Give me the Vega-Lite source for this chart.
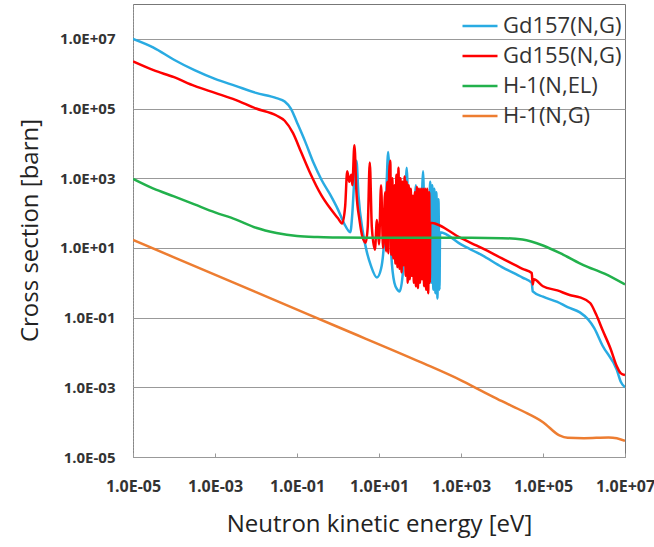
{
  "$schema": "https://vega.github.io/schema/vega-lite/v6.json",
  "width": 492,
  "height": 453,
  "autosize": {"type": "none"},
  "padding": {"left": 133, "top": 4, "right": 29, "bottom": 90},
  "background": "white",
  "config": {
    "view": {"stroke": "#777", "strokeWidth": 1},
    "font": "Open Sans"
  },
  "data": {
    "values": [
      {"s": "Gd157(N,G)", "e": 1e-5, "v": 1e7},
      {"s": "Gd157(N,G)", "e": 3.162e-5, "v": 5.623e6},
      {"s": "Gd157(N,G)", "e": 1e-4, "v": 2.512e6},
      {"s": "Gd157(N,G)", "e": 3.162e-4, "v": 1.259e6},
      {"s": "Gd157(N,G)", "e": 1e-3, "v": 7.079e5},
      {"s": "Gd157(N,G)", "e": 3.162e-3, "v": 4.467e5},
      {"s": "Gd157(N,G)", "e": 1e-2, "v": 2.818e5},
      {"s": "Gd157(N,G)", "e": 3.162e-2, "v": 1.995e5},
      {"s": "Gd157(N,G)", "e": 5.012e-2, "v": 1.585e5},
      {"s": "Gd157(N,G)", "e": 7.079e-2, "v": 1e5},
      {"s": "Gd157(N,G)", "e": 0.1, "v": 3.981e4},
      {"s": "Gd157(N,G)", "e": 0.1585, "v": 1.122e4},
      {"s": "Gd157(N,G)", "e": 0.2512, "v": 2818},
      {"s": "Gd157(N,G)", "e": 0.3981, "v": 891.3},
      {"s": "Gd157(N,G)", "e": 0.631, "v": 354.8},
      {"s": "Gd157(N,G)", "e": 1, "v": 125.9},
      {"s": "Gd157(N,G)", "e": 1.413, "v": 50.12},
      {"s": "Gd157(N,G)", "e": 1.995, "v": 28.18},
      {"s": "Gd157(N,G)", "e": 2.239, "v": 100},
      {"s": "Gd157(N,G)", "e": 2.512, "v": 1000},
      {"s": "Gd157(N,G)", "e": 2.818, "v": 3162},
      {"s": "Gd157(N,G)", "e": 3.162, "v": 316.2},
      {"s": "Gd157(N,G)", "e": 3.981, "v": 31.62},
      {"s": "Gd157(N,G)", "e": 5.012, "v": 7.943},
      {"s": "Gd157(N,G)", "e": 6.31, "v": 3.162},
      {"s": "Gd157(N,G)", "e": 8.913, "v": 1.413},
      {"s": "Gd157(N,G)", "e": 11.22, "v": 2.512},
      {"s": "Gd157(N,G)", "e": 13.34, "v": 15.85},
      {"s": "Gd157(N,G)", "e": 14.96, "v": 316.2},
      {"s": "Gd157(N,G)", "e": 16.79, "v": 5623},
      {"s": "Gd157(N,G)", "e": 18.84, "v": 100},
      {"s": "Gd157(N,G)", "e": 19.95, "v": 6.31},
      {"s": "Gd157(N,G)", "e": 23.71, "v": 1},
      {"s": "Gd157(N,G)", "e": 28.18, "v": 0.631},
      {"s": "Gd157(N,G)", "e": 31.62, "v": 0.5623},
      {"s": "Gd157(N,G)", "e": 37.58, "v": 1.585},
      {"s": "Gd157(N,G)", "e": 42.17, "v": 31.62},
      {"s": "Gd157(N,G)", "e": 47.32, "v": 1995},
      {"s": "Gd157(N,G)", "e": 53.09, "v": 31.62},
      {"s": "Gd157(N,G)", "e": 59.57, "v": 3.162},
      {"s": "Gd157(N,G)", "e": 63.1, "v": 1.585},
      {"s": "Gd157(N,G)", "e": 70.79, "v": 31.62},
      {"s": "Gd157(N,G)", "e": 79.43, "v": 631},
      {"s": "Gd157(N,G)", "e": 89.13, "v": 10},
      {"s": "Gd157(N,G)", "e": 100, "v": 2.512},
      {"s": "Gd157(N,G)", "e": 118.9, "v": 1585},
      {"s": "Gd157(N,G)", "e": 133.4, "v": 3.981},
      {"s": "Gd157(N,G)", "e": 158.5, "v": 1.413},
      {"s": "Gd157(N,G)", "e": 177.8, "v": 794.3},
      {"s": "Gd157(N,G)", "e": 188.4, "v": 1},
      {"s": "Gd157(N,G)", "e": 199.5, "v": 631},
      {"s": "Gd157(N,G)", "e": 211.3, "v": 0.631},
      {"s": "Gd157(N,G)", "e": 223.9, "v": 501.2},
      {"s": "Gd157(N,G)", "e": 237.1, "v": 0.5012},
      {"s": "Gd157(N,G)", "e": 251.2, "v": 398.1},
      {"s": "Gd157(N,G)", "e": 266.1, "v": 0.3548},
      {"s": "Gd157(N,G)", "e": 281.8, "v": 251.2},
      {"s": "Gd157(N,G)", "e": 298.5, "v": 0.631},
      {"s": "Gd157(N,G)", "e": 309, "v": 28.18},
      {"s": "Gd157(N,G)", "e": 1000, "v": 12.59},
      {"s": "Gd157(N,G)", "e": 3162, "v": 6.31},
      {"s": "Gd157(N,G)", "e": 1e4, "v": 2.818},
      {"s": "Gd157(N,G)", "e": 3.162e4, "v": 1.413},
      {"s": "Gd157(N,G)", "e": 5.309e4, "v": 1},
      {"s": "Gd157(N,G)", "e": 5.623e4, "v": 0.5623},
      {"s": "Gd157(N,G)", "e": 1e5, "v": 0.3981},
      {"s": "Gd157(N,G)", "e": 2.239e5, "v": 0.2818},
      {"s": "Gd157(N,G)", "e": 3.981e5, "v": 0.1995},
      {"s": "Gd157(N,G)", "e": 7.943e5, "v": 0.1413},
      {"s": "Gd157(N,G)", "e": 1.259e6, "v": 0.08913},
      {"s": "Gd157(N,G)", "e": 1.778e6, "v": 0.05012},
      {"s": "Gd157(N,G)", "e": 2.818e6, "v": 0.01585},
      {"s": "Gd157(N,G)", "e": 6.31e6, "v": 0.003162},
      {"s": "Gd157(N,G)", "e": 7.943e6, "v": 0.001413},
      {"s": "Gd157(N,G)", "e": 1e7, "v": 0.001},

      {"s": "Gd155(N,G)", "e": 1e-5, "v": 2.239e6},
      {"s": "Gd155(N,G)", "e": 3.162e-5, "v": 1.259e6},
      {"s": "Gd155(N,G)", "e": 1e-4, "v": 7.943e5},
      {"s": "Gd155(N,G)", "e": 3.162e-4, "v": 4.467e5},
      {"s": "Gd155(N,G)", "e": 1e-3, "v": 2.818e5},
      {"s": "Gd155(N,G)", "e": 3.162e-3, "v": 1.778e5},
      {"s": "Gd155(N,G)", "e": 1e-2, "v": 1e5},
      {"s": "Gd155(N,G)", "e": 3.162e-2, "v": 6.31e4},
      {"s": "Gd155(N,G)", "e": 5.012e-2, "v": 4.467e4},
      {"s": "Gd155(N,G)", "e": 7.943e-2, "v": 1.995e4},
      {"s": "Gd155(N,G)", "e": 0.1259, "v": 5623},
      {"s": "Gd155(N,G)", "e": 0.1995, "v": 1585},
      {"s": "Gd155(N,G)", "e": 0.3981, "v": 316.2},
      {"s": "Gd155(N,G)", "e": 0.631, "v": 141.3},
      {"s": "Gd155(N,G)", "e": 1, "v": 70.79},
      {"s": "Gd155(N,G)", "e": 1.259, "v": 50.12},
      {"s": "Gd155(N,G)", "e": 1.496, "v": 158.5},
      {"s": "Gd155(N,G)", "e": 1.679, "v": 1585},
      {"s": "Gd155(N,G)", "e": 1.884, "v": 794.3},
      {"s": "Gd155(N,G)", "e": 2.113, "v": 1259},
      {"s": "Gd155(N,G)", "e": 2.239, "v": 631},
      {"s": "Gd155(N,G)", "e": 2.512, "v": 8913},
      {"s": "Gd155(N,G)", "e": 2.818, "v": 398.1},
      {"s": "Gd155(N,G)", "e": 3.35, "v": 63.1},
      {"s": "Gd155(N,G)", "e": 3.981, "v": 19.95},
      {"s": "Gd155(N,G)", "e": 4.732, "v": 14.13},
      {"s": "Gd155(N,G)", "e": 5.309, "v": 39.81},
      {"s": "Gd155(N,G)", "e": 5.957, "v": 2818},
      {"s": "Gd155(N,G)", "e": 6.683, "v": 39.81},
      {"s": "Gd155(N,G)", "e": 7.943, "v": 8.913},
      {"s": "Gd155(N,G)", "e": 8.913, "v": 63.1},
      {"s": "Gd155(N,G)", "e": 10, "v": 12.59},
      {"s": "Gd155(N,G)", "e": 11.22, "v": 631},
      {"s": "Gd155(N,G)", "e": 12.59, "v": 10},
      {"s": "Gd155(N,G)", "e": 14.13, "v": 398.1},
      {"s": "Gd155(N,G)", "e": 14.96, "v": 7.943},
      {"s": "Gd155(N,G)", "e": 15.85, "v": 794.3},
      {"s": "Gd155(N,G)", "e": 16.79, "v": 7.079},
      {"s": "Gd155(N,G)", "e": 17.78, "v": 1585},
      {"s": "Gd155(N,G)", "e": 18.84, "v": 3162},
      {"s": "Gd155(N,G)", "e": 19.95, "v": 6.31},
      {"s": "Gd155(N,G)", "e": 21.13, "v": 1000},
      {"s": "Gd155(N,G)", "e": 22.39, "v": 5.012},
      {"s": "Gd155(N,G)", "e": 23.71, "v": 631},
      {"s": "Gd155(N,G)", "e": 25.12, "v": 3.548},
      {"s": "Gd155(N,G)", "e": 26.61, "v": 1259},
      {"s": "Gd155(N,G)", "e": 28.18, "v": 2.818},
      {"s": "Gd155(N,G)", "e": 29.85, "v": 1995},
      {"s": "Gd155(N,G)", "e": 31.62, "v": 2.512},
      {"s": "Gd155(N,G)", "e": 33.5, "v": 1000},
      {"s": "Gd155(N,G)", "e": 35.48, "v": 1.995},
      {"s": "Gd155(N,G)", "e": 37.58, "v": 794.3},
      {"s": "Gd155(N,G)", "e": 39.81, "v": 3.162},
      {"s": "Gd155(N,G)", "e": 42.17, "v": 1122},
      {"s": "Gd155(N,G)", "e": 44.67, "v": 1.585},
      {"s": "Gd155(N,G)", "e": 47.32, "v": 794.3},
      {"s": "Gd155(N,G)", "e": 50.12, "v": 1},
      {"s": "Gd155(N,G)", "e": 53.09, "v": 631},
      {"s": "Gd155(N,G)", "e": 56.23, "v": 1.259},
      {"s": "Gd155(N,G)", "e": 59.57, "v": 501.2},
      {"s": "Gd155(N,G)", "e": 63.1, "v": 1.585},
      {"s": "Gd155(N,G)", "e": 66.83, "v": 316.2},
      {"s": "Gd155(N,G)", "e": 70.79, "v": 1},
      {"s": "Gd155(N,G)", "e": 74.99, "v": 398.1},
      {"s": "Gd155(N,G)", "e": 79.43, "v": 0.7943},
      {"s": "Gd155(N,G)", "e": 84.14, "v": 562.3},
      {"s": "Gd155(N,G)", "e": 89.13, "v": 0.7079},
      {"s": "Gd155(N,G)", "e": 94.41, "v": 501.2},
      {"s": "Gd155(N,G)", "e": 100, "v": 1},
      {"s": "Gd155(N,G)", "e": 105.9, "v": 501.2},
      {"s": "Gd155(N,G)", "e": 112.2, "v": 1.259},
      {"s": "Gd155(N,G)", "e": 118.9, "v": 501.2},
      {"s": "Gd155(N,G)", "e": 125.9, "v": 0.7943},
      {"s": "Gd155(N,G)", "e": 133.4, "v": 501.2},
      {"s": "Gd155(N,G)", "e": 141.3, "v": 0.631},
      {"s": "Gd155(N,G)", "e": 149.6, "v": 501.2},
      {"s": "Gd155(N,G)", "e": 158.5, "v": 0.5012},
      {"s": "Gd155(N,G)", "e": 167.9, "v": 398.1},
      {"s": "Gd155(N,G)", "e": 173.8, "v": 1},
      {"s": "Gd155(N,G)", "e": 177.8, "v": 52.48},
      {"s": "Gd155(N,G)", "e": 1000, "v": 19.05},
      {"s": "Gd155(N,G)", "e": 3162, "v": 10},
      {"s": "Gd155(N,G)", "e": 1e4, "v": 5.012},
      {"s": "Gd155(N,G)", "e": 3.162e4, "v": 2.512},
      {"s": "Gd155(N,G)", "e": 5.309e4, "v": 1.905},
      {"s": "Gd155(N,G)", "e": 5.623e4, "v": 0.8913},
      {"s": "Gd155(N,G)", "e": 5.957e4, "v": 1.259},
      {"s": "Gd155(N,G)", "e": 1e5, "v": 0.7943},
      {"s": "Gd155(N,G)", "e": 2.239e5, "v": 0.6026},
      {"s": "Gd155(N,G)", "e": 4.467e5, "v": 0.4467},
      {"s": "Gd155(N,G)", "e": 7.943e5, "v": 0.3802},
      {"s": "Gd155(N,G)", "e": 1.413e6, "v": 0.263},
      {"s": "Gd155(N,G)", "e": 1.995e6, "v": 0.1202},
      {"s": "Gd155(N,G)", "e": 2.818e6, "v": 0.04467},
      {"s": "Gd155(N,G)", "e": 4.467e6, "v": 0.01259},
      {"s": "Gd155(N,G)", "e": 6.31e6, "v": 0.003981},
      {"s": "Gd155(N,G)", "e": 7.943e6, "v": 0.002512},
      {"s": "Gd155(N,G)", "e": 1e7, "v": 0.002239},

      {"s": "H-1(N,EL)", "e": 1e-5, "v": 955},
      {"s": "H-1(N,EL)", "e": 3.162e-5, "v": 501.2},
      {"s": "H-1(N,EL)", "e": 1e-4, "v": 302},
      {"s": "H-1(N,EL)", "e": 3.162e-4, "v": 177.8},
      {"s": "H-1(N,EL)", "e": 1e-3, "v": 104.7},
      {"s": "H-1(N,EL)", "e": 3.162e-3, "v": 66.1},
      {"s": "H-1(N,EL)", "e": 1e-2, "v": 38.02},
      {"s": "H-1(N,EL)", "e": 3.162e-2, "v": 26.92},
      {"s": "H-1(N,EL)", "e": 0.1, "v": 21.88},
      {"s": "H-1(N,EL)", "e": 0.3162, "v": 20.42},
      {"s": "H-1(N,EL)", "e": 1, "v": 19.95},
      {"s": "H-1(N,EL)", "e": 10, "v": 19.5},
      {"s": "H-1(N,EL)", "e": 100, "v": 19.5},
      {"s": "H-1(N,EL)", "e": 1000, "v": 19.5},
      {"s": "H-1(N,EL)", "e": 1e4, "v": 19.05},
      {"s": "H-1(N,EL)", "e": 3.162e4, "v": 17.38},
      {"s": "H-1(N,EL)", "e": 1e5, "v": 11.75},
      {"s": "H-1(N,EL)", "e": 3.162e5, "v": 6.31},
      {"s": "H-1(N,EL)", "e": 1e6, "v": 3.162},
      {"s": "H-1(N,EL)", "e": 3.162e6, "v": 1.82},
      {"s": "H-1(N,EL)", "e": 1e7, "v": 0.8913},

      {"s": "H-1(N,G)", "e": 1e-5, "v": 17},
      {"s": "H-1(N,G)", "e": 1e-4, "v": 5.37},
      {"s": "H-1(N,G)", "e": 1e-2, "v": 0.537},
      {"s": "H-1(N,G)", "e": 1, "v": 0.0537},
      {"s": "H-1(N,G)", "e": 100, "v": 0.00537},
      {"s": "H-1(N,G)", "e": 1000, "v": 0.001585},
      {"s": "H-1(N,G)", "e": 3162, "v": 0.0007943},
      {"s": "H-1(N,G)", "e": 1e4, "v": 0.0003981},
      {"s": "H-1(N,G)", "e": 3.162e4, "v": 0.0002089},
      {"s": "H-1(N,G)", "e": 1e5, "v": 0.0001},
      {"s": "H-1(N,G)", "e": 2.512e5, "v": 0.00004169},
      {"s": "H-1(N,G)", "e": 3.981e5, "v": 0.00003548},
      {"s": "H-1(N,G)", "e": 1e6, "v": 0.00003467},
      {"s": "H-1(N,G)", "e": 3.981e6, "v": 0.00003631},
      {"s": "H-1(N,G)", "e": 6.31e6, "v": 0.00003467},
      {"s": "H-1(N,G)", "e": 1e7, "v": 0.00002884}
    ]
  },
  "mark": {"type": "line", "strokeWidth": 2.5, "clip": true, "interpolate": "monotone"},
  "encoding": {
    "x": {
      "field": "e", "type": "quantitative",
      "scale": {"type": "log", "domain": [1e-5, 1e7], "nice": false},
      "axis": {
        "title": "Neutron kinetic energy [eV]",
        "values": [1e-5, 1e-3, 0.1, 10, 1000, 1e5, 1e7],
        "labelExpr": "'1.0E' + (round(log(datum.value)/LN10) >= 0 ? '+' : '-') + (abs(round(log(datum.value)/LN10)) < 10 ? '0' : '') + abs(round(log(datum.value)/LN10))",
        "grid": false,
        "domainColor": "#999",
        "domainDash": [2, 1],
        "tickColor": "#999",
        "tickSize": -4,
        "labelFontSize": 16,
        "labelFontWeight": "bold",
        "labelColor": "#333",
        "labelPadding": 25,
        "labelFlush": false,
        "labelOverlap": false,
        "titleFontSize": 24,
        "titleFontWeight": "normal",
        "titleColor": "#222",
        "titlePadding": 18
      }
    },
    "y": {
      "field": "v", "type": "quantitative",
      "scale": {"type": "log", "domain": [1e-5, 1e8], "nice": false},
      "axis": {
        "title": "Cross section [barn]",
        "values": [1e-5, 1e-3, 0.1, 10, 1000, 1e5, 1e7],
        "labelExpr": "'1.0E' + (round(log(datum.value)/LN10) >= 0 ? '+' : '-') + (abs(round(log(datum.value)/LN10)) < 10 ? '0' : '') + abs(round(log(datum.value)/LN10))",
        "grid": true,
        "gridColor": "#999",
        "gridWidth": 1,
        "ticks": false,
        "domainColor": "#999",
        "domainDash": [2, 1],
        "labelFontSize": 15,
        "labelFontWeight": "bold",
        "labelColor": "#333",
        "labelPadding": 18,
        "labelOverlap": false,
        "titleFontSize": 24,
        "titleFontWeight": "normal",
        "titleColor": "#222",
        "titleX": -103,
        "titleY": 226,
        "titleBaseline": "middle",
        "titleAlign": "center",
        "titleAngle": 270
      }
    },
    "color": {
      "field": "s", "type": "nominal",
      "scale": {
        "domain": ["Gd157(N,G)", "Gd155(N,G)", "H-1(N,EL)", "H-1(N,G)"],
        "range": ["#29ABE2", "#FF0000", "#22B14C", "#ED7D31"]
      },
      "legend": {
        "title": null,
        "orient": "none",
        "legendX": 328,
        "legendY": 3,
        "symbolType": "stroke",
        "symbolSize": 1225,
        "symbolStrokeWidth": 2.5,
        "labelFontSize": 22,
        "labelColor": "#333",
        "labelOffset": 4,
        "rowPadding": 0,
        "labelLimit": 250
      }
    }
  }
}
